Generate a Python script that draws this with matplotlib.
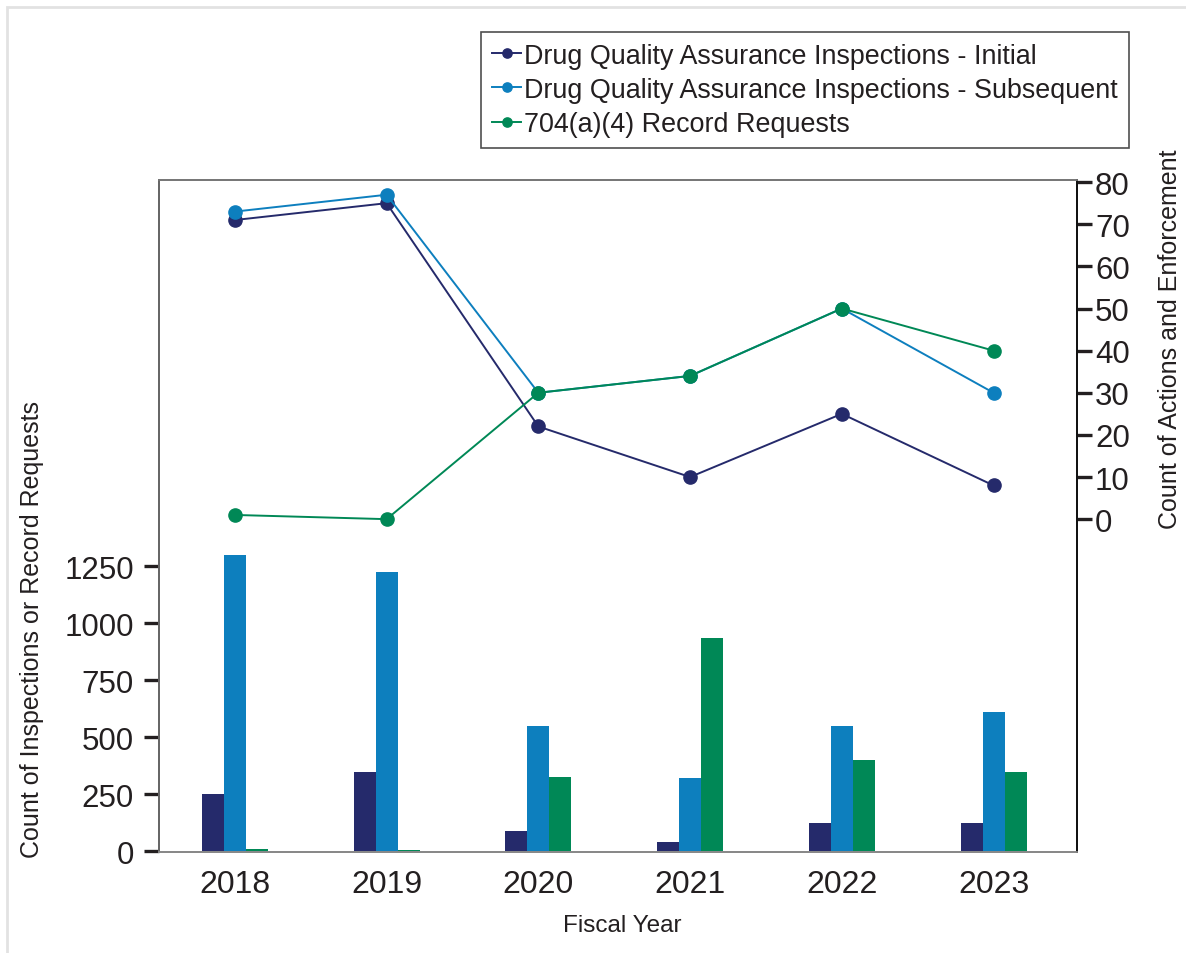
import numpy as np
import matplotlib
matplotlib.use("Agg")
import matplotlib.pyplot as plt
from matplotlib.patches import Rectangle

plt.rcParams['font.family'] = ['Liberation Sans', 'DejaVu Sans']

# data
years = ['2018', '2019', '2020', '2021', '2022', '2023']
bar_initial = [250, 345, 88, 40, 123, 123]
bar_subsequent = [1300, 1225, 548, 320, 548, 610]
bar_records = [10, 3, 325, 934, 399, 346]

line_initial = [71, 75, 22, 10, 25, 8]
line_subsequent = [73, 77, 30, 34, 50, 30]
line_records = [1, 0, 30, 34, 50, 40]

navy = '#252a6b'
blue = '#0d7fbe'
green = '#008856'
txt = '#231f20'

W, H = 1186, 954
fig = plt.figure(figsize=(W / 100, H / 100), dpi=100)
ax = fig.add_axes([159 / W, 1 - 853 / H, (1077 - 159) / W, (853 - 181) / H])
ax2 = ax.twinx()

x = np.arange(len(years))
bw = 0.145
ax.bar(x - bw, bar_initial, bw, color=navy, zorder=2)
ax.bar(x, bar_subsequent, bw, color=blue, zorder=2)
ax.bar(x + bw, bar_records, bw, color=green, zorder=2)

ax.set_xlim(-0.5, 5.55)
ax.set_ylim(-4, 2943)
ax.set_yticks([0, 250, 500, 750, 1000, 1250])
ax.set_xticks(x)
ax.set_xticklabels(years)
ax.tick_params(axis='x', length=0, pad=12, labelsize=23, labelcolor=txt)
ax.tick_params(axis='y', length=11, width=2.4, color=txt, pad=7,
               labelsize=22.5, labelcolor=txt)

kw = dict(marker='o', markersize=9.5, linewidth=1.4)
ax2.plot(x, line_initial, color=navy, label='Drug Quality Assurance Inspections - Initial', **kw)
ax2.plot(x, line_subsequent, color=blue, label='Drug Quality Assurance Inspections - Subsequent', **kw)
ax2.plot(x, line_records, color=green, label='704(a)(4) Record Requests', **kw)
ax2.set_ylim(-79, 80.5)
ax2.set_yticks(range(0, 81, 10))
ax2.tick_params(axis='y', length=11, width=2.4, color=txt, pad=2,
                labelsize=22.5, labelcolor=txt)

for a in (ax, ax2):
    a.spines['top'].set_color('#777777')
    a.spines['left'].set_color('#666666')
    a.spines['bottom'].set_color('#888888')
    a.spines['right'].set_color('#111111')
    for s in a.spines.values():
        s.set_linewidth(1.3)

fig.text(622 / W, 1 - 926 / H, 'Fiscal Year', ha='center', va='center',
         fontsize=17.5, color=txt)
fig.text(32 / W, 1 - 629 / H, 'Count of Inspections or Record Requests',
         rotation=90, ha='center', va='center', fontsize=18, color=txt)
fig.text(1170 / W, 1 - 339 / H, 'Count of Actions and Enforcement',
         rotation=90, ha='center', va='center', fontsize=18, color=txt)

leg = fig.legend(loc='upper left', bbox_to_anchor=(481 / W, 1 - 33 / H),
                 fontsize=19.4, frameon=True, fancybox=False, handlelength=1.1,
                 handletextpad=0.1, borderpad=0.4, labelspacing=0.3,
                 borderaxespad=0, markerscale=0.7)
leg.get_frame().set_edgecolor('#222222')
leg.get_frame().set_linewidth(1.2)
for t in leg.get_texts():
    t.set_color(txt)

# light outer frame
fig.patches.append(Rectangle((7 / W, -0.1), 2, 1 - 8 / H + 0.1,
                             transform=fig.transFigure, fill=False,
                             edgecolor='#e2e2e2', linewidth=2))

fig.savefig('out.png', dpi=100)
